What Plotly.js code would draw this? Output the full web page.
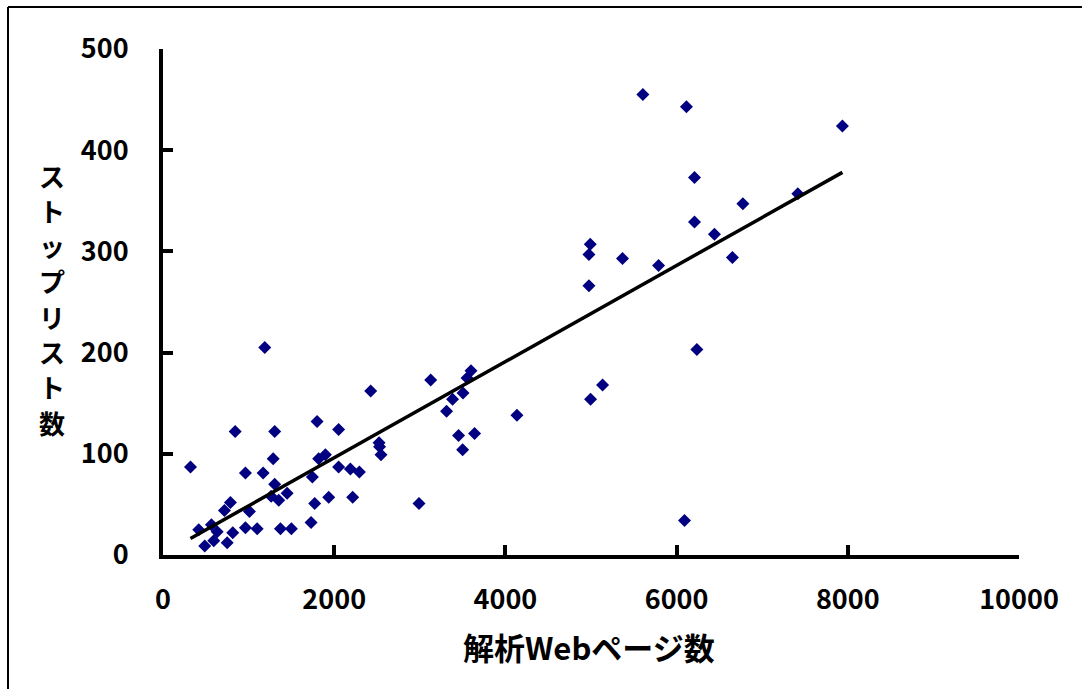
<!DOCTYPE html>
<html>
<head>
<meta charset="utf-8">
<script src="https://cdn.plot.ly/plotly-3.0.1.min.js"></script>
<style>
  html, body { margin: 0; padding: 0; background: #ffffff; }
  #chart { width: 1082px; height: 689px; }
</style>
</head>
<body>
<div id="chart"></div>
<script>
// Number of analysed Web pages (x) and stop-list size (y)
const pagesAnalysed = [
  321, 418, 488, 566, 633, 593, 750, 718, 788, 815,
  843, 963, 963, 1010, 1100, 1170, 1189, 1287, 1305, 1305,
  1263, 1372, 1352, 1450, 1500, 1730, 1745, 1772, 1800, 1819,
  1897, 1936, 2052, 2052, 2189, 2216, 2294, 2426, 2524, 2530,
  2547, 2991, 3127, 3313, 3383, 3453, 3505, 3500, 3552, 3598,
  3640, 4135, 4976, 4976, 4991, 4995, 5135, 5368, 5606, 5789,
  6092, 6115, 6209, 6209, 6237, 6442, 6652, 6774, 7416, 7937
];
const stopListSize = [
  87, 25, 9, 30, 23, 14, 12, 44, 52, 22,
  122, 81, 27, 43, 26, 81, 205, 95, 122, 70,
  58, 26, 54, 61, 26, 32, 77, 51, 132, 95,
  99, 57, 124, 87, 85, 57, 82, 162, 111, 107,
  99, 51, 173, 142, 154, 118, 160, 104, 175, 182,
  120, 138, 266, 297, 307, 154, 168, 293, 455, 286,
  34, 443, 373, 329, 203, 317, 294, 347, 357, 424
];
// Linear trend line coefficients
const trendSlope = 0.0475;
const trendIntercept = 1.1;

const xTickValues = [0, 2000, 4000, 6000, 8000, 10000];
const yTickValues = [0, 100, 200, 300, 400, 500];
const xTitleText = "解析Webページ数";
const yTitleText = "ストップリスト数";

const xMin = Math.min(...pagesAnalysed);
const xMax = Math.max(...pagesAnalysed);
const trendX = [xMin, xMax];
const trendY = trendX.map(v => trendSlope * v + trendIntercept);

const FONT = '"Noto Sans CJK JP", "Noto Sans", sans-serif';

// plot area geometry (pixels)
const M = { l: 163, r: 63, t: 49, b: 134 };
const W = 1082, H = 689;
const PW = W - M.l - M.r, PH = H - M.t - M.b;
const px2x = px => (px - M.l) / PW;
const py2y = py => (H - M.b - py) / PH;

const traces = [
  {
    type: 'scatter', mode: 'markers',
    x: pagesAnalysed, y: stopListSize,
    marker: { symbol: 'diamond', size: 10, color: '#000080', line: { width: 0 } },
    cliponaxis: false, hoverinfo: 'x+y', showlegend: false
  },
  {
    type: 'scatter', mode: 'lines',
    x: trendX, y: trendY,
    line: { color: '#000000', width: 3.5 },
    hoverinfo: 'skip', showlegend: false
  }
];

const axisCommon = {
  showgrid: false, zeroline: false,
  showline: true, linecolor: '#000000', linewidth: 4,
  ticks: 'inside', ticklen: 10, tickwidth: 4, tickcolor: '#000000',
  tickfont: { family: FONT, size: 27, color: '#000000', weight: 'bold' },
  fixedrange: true
};

const yTitleChars = Array.from(yTitleText);
const yTitleAnnotations = yTitleChars.map((ch, i) => ({
  xref: 'paper', yref: 'paper', x: px2x(52), y: py2y(175 + i * 35.3),
  xanchor: 'center', yanchor: 'middle', showarrow: false,
  text: ch,
  font: { family: FONT, size: 26, color: '#000000', weight: 'bold' }
}));

const layout = {
  width: W, height: H,
  margin: Object.assign({ pad: 0 }, M),
  paper_bgcolor: '#ffffff', plot_bgcolor: '#ffffff',
  showlegend: false,
  xaxis: Object.assign({}, axisCommon, {
    range: [0, 10000], tickvals: xTickValues,
    ticktext: xTickValues.map(String),
    ticklabelstandoff: 18
  }),
  yaxis: Object.assign({}, axisCommon, {
    range: [0, 500], tickvals: yTickValues,
    ticktext: yTickValues.map(String),
    ticklabelstandoff: 25
  }),
  annotations: [
    {
      xref: 'paper', yref: 'paper', x: px2x(589), y: py2y(646),
      xanchor: 'center', yanchor: 'middle', showarrow: false,
      text: xTitleText,
      font: { family: FONT, size: 31, color: '#000000', weight: 'bold' }
    }
  ].concat(yTitleAnnotations),
  shapes: [
    { type: 'line', xref: 'paper', yref: 'paper', x0: px2x(8), x1: px2x(1100), y0: py2y(7), y1: py2y(7),
      line: { color: '#000000', width: 2 } },
    { type: 'line', xref: 'paper', yref: 'paper', x0: px2x(8), x1: px2x(8), y0: py2y(7), y1: py2y(700),
      line: { color: '#000000', width: 2 } }
  ]
};

Plotly.newPlot('chart', traces, layout, { displayModeBar: false, responsive: false, staticPlot: false });
</script>
</body>
</html>
